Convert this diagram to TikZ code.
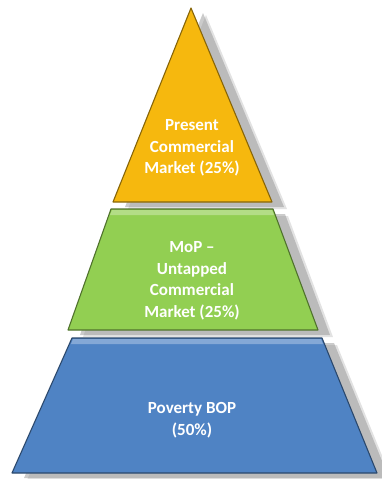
\documentclass[tikz,border=0pt]{standalone}
\usepackage{fontspec}
\setmainfont{Carlito}
\usepackage{xcolor}
\usetikzlibrary{calc}

\definecolor{marketyellow}{HTML}{F6B80E}
\definecolor{mopgreen}{HTML}{92CF52}
\definecolor{bopblue}{HTML}{4F83C4}

\tikzset{
  tier/.style={fill=#1, draw=#1!55!black, line width=1.1pt, line join=round},
  tierlight/.style={fill=#1!70!white},
  tiershadow/.style={fill=black!45, opacity=#1},
  tiertext/.style={text=white, align=center, font=\bfseries\fontsize{17}{21.5}\selectfont}
}

\begin{document}
\begin{tikzpicture}[x=1pt,y=-1pt]
			\useasboundingbox (0,0) rectangle (382,479);
			\def\apex{(191,8)}

			\foreach \dx/\dy/\op in {15/7/0.25, 12/5/0.45} {
				\begin{scope}[shift={(\dx,\dy)}]
					\fill [tiershadow=\op] \apex -- (272,202) -- (113,202) -- cycle;
					\fill [tiershadow=\op] (111,209) -- (273,209) -- (318,330) -- (68,330) -- cycle;
					\fill [tiershadow=\op] (72,338) -- (322,338) -- (377,473) -- (12,473) -- cycle;
				\end{scope}
			}

			\filldraw [tier=marketyellow] \apex -- (272,202) -- (113,202) -- cycle;
			\filldraw [tier=mopgreen] (111,209) -- (273,209) -- (318,330) -- (68,330) -- cycle;
			\filldraw [tier=bopblue] (72,338) -- (322,338) -- (377,473) -- (12,473) -- cycle;

			\fill [tierlight=mopgreen] (112,210) -- (272,210) -- (274,215) -- (110,215) -- cycle;
			\fill [tierlight=bopblue] (73,339) -- (321,339) -- (323,344) -- (71,344) -- cycle;

			\node [tiertext] (present) at (192,148) {Present\\Commercial\\Market (25\%)};
			\node [tiertext] (mop) at (192,281) {MoP –\\Untapped\\Commercial\\Market (25\%)};
			\node [tiertext] (bop) at (192,420) {Poverty BOP\\(50\%)};
		\end{tikzpicture}
\end{document}
